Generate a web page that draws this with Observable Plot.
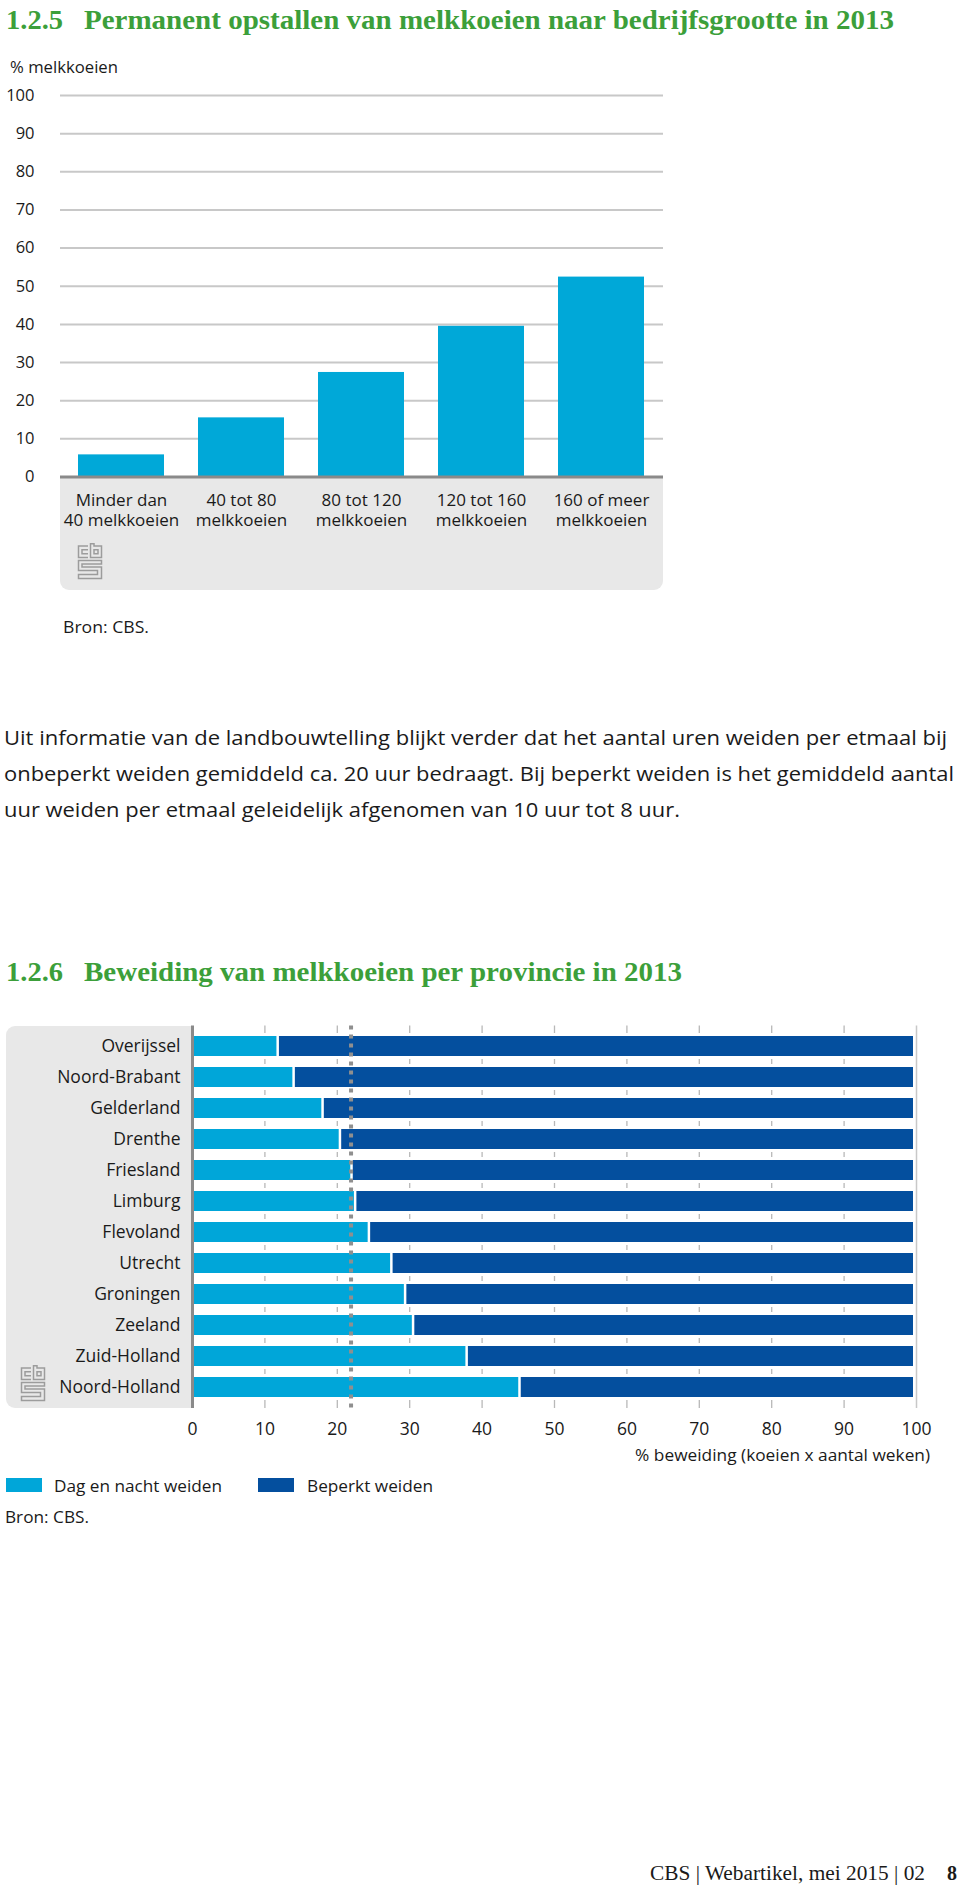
<!DOCTYPE html>
<html><head><meta charset="utf-8">
<script src="https://cdn.jsdelivr.net/npm/d3@7"></script>
<script src="https://cdn.jsdelivr.net/npm/@observablehq/plot@0.6"></script>
<style>
body{margin:0;background:#fff;}
#page{position:relative;width:960px;height:1887px;overflow:hidden;background:#fff;}
.t{position:absolute;white-space:nowrap;}
.box{position:absolute;background:#e8e8e8;}
svg.plot{position:absolute;}
</style></head><body><div id="page"></div>
<script>
// ---------- data: chart 1.2.5 ----------
const sizeCategories = ["Minder dan\n40 melkkoeien", "40 tot 80\nmelkkoeien", "80 tot 120\nmelkkoeien", "120 tot 160\nmelkkoeien", "160 of meer\nmelkkoeien"];
const sizeValues = [5.8, 15.5, 27.4, 39.5, 52.4];
const sizeYTicks = [0, 10, 20, 30, 40, 50, 60, 70, 80, 90, 100];

// ---------- data: chart 1.2.6 ----------
const provinces = ["Overijssel", "Noord-Brabant", "Gelderland", "Drenthe", "Friesland", "Limburg", "Flevoland", "Utrecht", "Groningen", "Zeeland", "Zuid-Holland", "Noord-Holland"];
const dagNachtValues = [11.8, 14.0, 18.0, 20.4, 22.0, 22.5, 24.4, 27.5, 29.4, 30.5, 37.9, 45.2];
const beperktValues = [88.2, 86.0, 82.0, 79.6, 78.0, 77.5, 75.6, 72.5, 70.6, 69.5, 62.1, 54.8];
const averageDagNacht = [21.9];
const pctTicks = [0, 10, 20, 30, 40, 50, 60, 70, 80, 90, 100];
const seriesNames = ["Dag en nacht weiden", "Beperkt weiden"];

const lightBlue = "#00a6d9", darkBlue = "#044f9e", green = "#3c9f3a", ink = "#1a1a1a";

const page = document.getElementById("page");
const items = [];

function box(x, y, w, h, radius) {
  const d = document.createElement("div");
  d.className = "box";
  Object.assign(d.style, {left: x + "px", top: y + "px", width: w + "px", height: h + "px", borderRadius: radius});
  page.appendChild(d);
}

function place(txt, {x, base, font = "Open Sans", size = 17, weight = 400, color = ink, anchor = "start", width = null}) {
  const d = document.createElement("div");
  d.className = "t";
  d.style.fontFamily = `'${font}'`;
  d.style.fontSize = size + "px";
  d.style.lineHeight = "normal";
  d.style.fontWeight = weight;
  d.style.color = color;
  d.appendChild(document.createTextNode(txt));
  const m = document.createElement("span");
  m.style.cssText = "display:inline-block;width:0;height:0;vertical-align:baseline;";
  d.appendChild(m);
  page.appendChild(d);
  items.push({d, m, x, base, anchor, width});
}

function layout() {
  for (const it of items) {
    it.d.style.transform = "none";
    const w = it.d.getBoundingClientRect().width;
    const bo = it.m.offsetTop;
    it.d.style.top = (it.base - bo) + "px";
    if (it.width) {
      it.d.style.transformOrigin = it.anchor === "end" ? "right center" : "left center";
      it.d.style.transform = `scaleX(${it.width / w})`;
    }
    if (it.anchor === "end") it.d.style.left = (it.x - w) + "px";
    else it.d.style.left = it.x + "px";
  }
}

function logo(x, y) {
  const ns = "http://www.w3.org/2000/svg";
  const s = document.createElementNS(ns, "svg");
  s.setAttribute("width", 26); s.setAttribute("height", 37);
  s.style.position = "absolute"; s.style.left = x + "px"; s.style.top = y + "px";
  s.innerHTML = `<g fill="none" stroke="#9c9c9c" stroke-width="1.5">
    <path d="M11 3H1.5V14.5H11"/><path d="M11 6.8H5V10.8H11"/>
    <path d="M13.5 0.8V14.5H24.5V3H17V0.8Z"/><path d="M17 6.8H21V10.8H17Z"/>
    <path d="M24.5 17.5H1.5V27.5H20.5V31.5H1.5V35.5H24.5V24H5V21H24.5Z"/></g>`;
  page.appendChild(s);
}

// ---------- page texts ----------
place("1.2.5", {x: 6, base: 29, font: "Liberation Serif", size: 27, weight: 700, color: green, width: 57});
place("Permanent opstallen van melkkoeien naar bedrijfsgrootte in 2013", {x: 84, base: 29, font: "Liberation Serif", size: 27, weight: 700, color: green, width: 810});
place("% melkkoeien", {x: 10, base: 73, size: 16.5, width: 108});
place("Bron: CBS.", {x: 63, base: 632.5, size: 17, width: 86});

place("Uit informatie van de landbouwtelling blijkt verder dat het aantal uren weiden per etmaal bij", {x: 4, base: 745, size: 19.5, width: 943});
place("onbeperkt weiden gemiddeld ca. 20 uur bedraagt. Bij beperkt weiden is het gemiddeld aantal", {x: 4, base: 781, size: 19.5, width: 950});
place("uur weiden per etmaal geleidelijk afgenomen van 10 uur tot 8 uur.", {x: 4, base: 817, size: 19.5, width: 676});

place("1.2.6", {x: 6, base: 981, font: "Liberation Serif", size: 27, weight: 700, color: green, width: 57});
place("Beweiding van melkkoeien per provincie in 2013", {x: 84, base: 981, font: "Liberation Serif", size: 27, weight: 700, color: green, width: 598});

place("% beweiding (koeien x aantal weken)", {x: 930, base: 1461, size: 17, anchor: "end", width: 295});
place(seriesNames[0], {x: 54, base: 1492, size: 17, width: 168});
place(seriesNames[1], {x: 307, base: 1492, size: 17, width: 126});
place("Bron: CBS.", {x: 5, base: 1523, size: 17, width: 84});

place("CBS | Webartikel, mei 2015 | 02", {x: 650, base: 1880, font: "Liberation Serif", size: 20, width: 275});
place("8", {x: 947, base: 1880, font: "Liberation Serif", size: 20, weight: 700});

// legend swatches
for (const [i, c] of [[0, lightBlue], [1, darkBlue]]) {
  const d = document.createElement("div");
  Object.assign(d.style, {position: "absolute", left: (i ? 258 : 6) + "px", top: "1478px", width: "36px", height: "14px", background: c});
  page.appendChild(d);
}

// ---------- chart 1.2.5 ----------
box(60, 478, 603, 112, "0 0 9px 9px");
const sizeRows = sizeCategories.map((c, i) => ({cat: c, value: sizeValues[i]}));
const c1 = Plot.plot({
  width: 680, height: 600,
  marginTop: 55, marginBottom: 163.5, marginLeft: 60, marginRight: 17,
  style: {fontFamily: "'Open Sans', sans-serif", fontSize: "17px", color: ink, background: "transparent", overflow: "visible"},
  x: {type: "band", domain: sizeCategories, paddingInner: 0.28, paddingOuter: 0.138, align: 0.5, axis: null},
  y: {domain: [0, 100], axis: null},
  marks: [
    Plot.ruleY(sizeYTicks.filter(d => d > 0), {stroke: "#c8c8c8", strokeWidth: 2}),
    Plot.barY(sizeRows, {x: "cat", y: "value", fill: "#00a8d8"}),
    Plot.ruleY([0], {stroke: "#8a8a8a", strokeWidth: 3}),
    Plot.axisY(sizeYTicks, {anchor: "left", tickSize: 0, tickPadding: 26, fontSize: 16.5, label: null}),
    Plot.axisX(sizeCategories, {anchor: "bottom", tickSize: 0, tickPadding: 15, lineHeight: 1.18, fontSize: 17, label: null})
  ]
});
c1.classList.add("plot");
c1.style.left = "0px"; c1.style.top = "40px";
page.appendChild(c1);
logo(77, 543);

// ---------- chart 1.2.6 ----------
box(6, 1026, 186, 382, "9px 0 0 9px");
const provRows = provinces.map((p, i) => ({prov: p, dag: dagNachtValues[i], beperkt: beperktValues[i]}));
const c2 = Plot.plot({
  width: 960, height: 480,
  marginTop: 25.5, marginBottom: 72, marginLeft: 192, marginRight: 44,
  style: {fontFamily: "'Open Sans', sans-serif", fontSize: "17.5px", color: ink, background: "transparent", overflow: "visible"},
  y: {type: "band", domain: provinces, paddingInner: 0.35, paddingOuter: 0.175, align: 0.5, axis: null},
  x: {domain: [0, 100], axis: null},
  marks: [
    Plot.ruleX(pctTicks.filter(d => d > 0 && d < 100), {stroke: "#b8b8b8", strokeWidth: 1.3}),
    Plot.barX(provRows, {y: "prov", x1: 0, x2: 100, fill: "white", insetTop: -3, insetBottom: -3}),
    Plot.barX(provRows, {y: "prov", x1: 0, x2: "dag", fill: lightBlue, insetRight: 1}),
    Plot.barX(provRows, {y: "prov", x1: "dag", x2: d => d.dag + d.beperkt, fill: darkBlue, insetLeft: 1.5, insetRight: 3}),
    Plot.ruleX([100], {stroke: "#c8c8c8", strokeWidth: 1.5}),
    Plot.ruleX([0], {stroke: "#8a8a8a", strokeWidth: 3}),
    Plot.ruleX(averageDagNacht, {stroke: "#8f8f8f", strokeWidth: 4, strokeDasharray: "4,5"}),
    Plot.axisY(provinces, {anchor: "left", tickSize: 0, tickPadding: 12, fontSize: 17.5, label: null}),
    Plot.axisX(pctTicks, {anchor: "bottom", tickSize: 0, tickPadding: 14.5, fontSize: 17.5, label: null})
  ]
});
c2.classList.add("plot");
c2.style.left = "0px"; c2.style.top = "1000px";
page.appendChild(c2);
logo(20, 1365);

layout();
if (document.fonts && document.fonts.ready) document.fonts.ready.then(layout);
</script>
</body></html>
